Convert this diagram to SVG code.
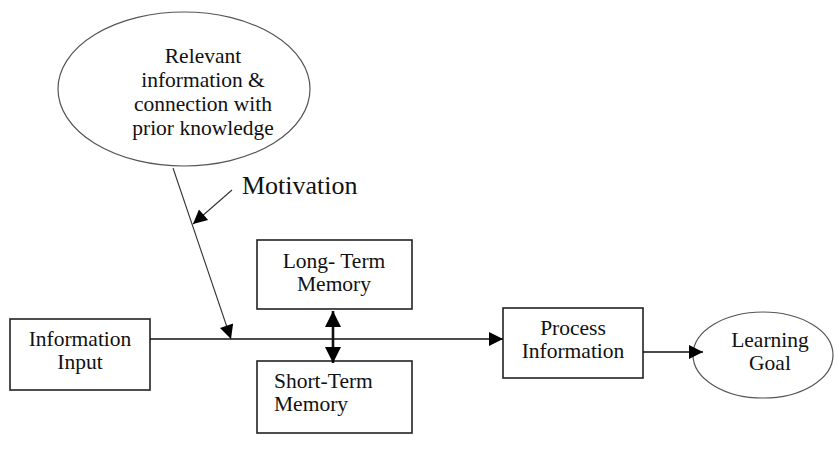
<svg xmlns="http://www.w3.org/2000/svg" width="837" height="456" viewBox="0 0 837 456">
  <style>
    .box { fill: #ffffff; stroke: #222222; stroke-width: 1.6; }
    .oval { fill: #ffffff; stroke: #555555; stroke-width: 1.2; }
    .lbl { font-family: "Liberation Serif", "Times New Roman", serif; font-size: 21.5px; fill: #111111; }
    .big { font-size: 26px; }
    .mid { text-anchor: middle; }
    .wire { fill: none; stroke: #111111; stroke-width: 1.4; }
    .thin { fill: none; stroke: #333333; stroke-width: 1.1; }
    .thick { fill: none; stroke: #111111; stroke-width: 2.6; }
  </style>
  <defs>
    <marker id="tri" viewBox="0 0 10 10" refX="10" refY="5" markerUnits="userSpaceOnUse" markerWidth="16" markerHeight="14" orient="auto">
      <path d="M0,0 L10,5 L0,10 Z" fill="#000000"/>
    </marker>
    <marker id="triS" viewBox="0 0 10 10" refX="10" refY="5" markerUnits="userSpaceOnUse" markerWidth="16" markerHeight="16" orient="auto-start-reverse">
      <path d="M0,0 L10,5 L0,10 Z" fill="#000000"/>
    </marker>
  </defs>

  <g id="prior-knowledge">
    <ellipse class="oval" cx="184" cy="89" rx="126" ry="77"/>
    <text class="lbl mid" x="203" y="63">Relevant</text>
    <text class="lbl mid" x="203" y="87">information &amp;</text>
    <text class="lbl mid" x="203" y="111">connection with</text>
    <text class="lbl mid" x="203" y="135">prior knowledge</text>
  </g>

  <g id="motivation">
    <text class="lbl big" x="242" y="194">Motivation</text>
  </g>

  <g id="information-input">
    <rect class="box" x="10" y="319" width="140" height="71"/>
    <text class="lbl mid" x="80" y="346">Information</text>
    <text class="lbl mid" x="80" y="369">Input</text>
  </g>

  <g id="long-term-memory">
    <rect class="box" x="257" y="240" width="155" height="69"/>
    <text class="lbl mid" x="334" y="268">Long- Term</text>
    <text class="lbl mid" x="334" y="291">Memory</text>
  </g>

  <g id="short-term-memory">
    <rect class="box" x="257" y="361" width="155" height="72"/>
    <text class="lbl" x="274" y="388">Short-Term</text>
    <text class="lbl" x="274" y="411">Memory</text>
  </g>

  <g id="process-information">
    <rect class="box" x="503" y="308" width="140" height="70"/>
    <text class="lbl mid" x="573" y="335">Process</text>
    <text class="lbl mid" x="573" y="358">Information</text>
  </g>

  <g id="learning-goal">
    <ellipse class="oval" cx="763" cy="355" rx="70" ry="43"/>
    <text class="lbl mid" x="770" y="347">Learning</text>
    <text class="lbl mid" x="770" y="370">Goal</text>
  </g>

  <!-- connectors, drawn last so arrowheads sit on top of the shapes -->
  <g id="connectors">
    <line class="wire" x1="150" y1="339" x2="503" y2="339" marker-end="url(#tri)"/>
    <line class="thin" x1="173" y1="168" x2="231" y2="339" marker-end="url(#tri)"/>
    <line class="thin" x1="232" y1="190" x2="193" y2="224" marker-end="url(#tri)"/>
    <line class="thick" x1="333" y1="311" x2="333" y2="363" marker-start="url(#triS)" marker-end="url(#triS)"/>
    <line class="wire" x1="643" y1="352" x2="703" y2="352" marker-end="url(#tri)"/>
  </g>
</svg>
